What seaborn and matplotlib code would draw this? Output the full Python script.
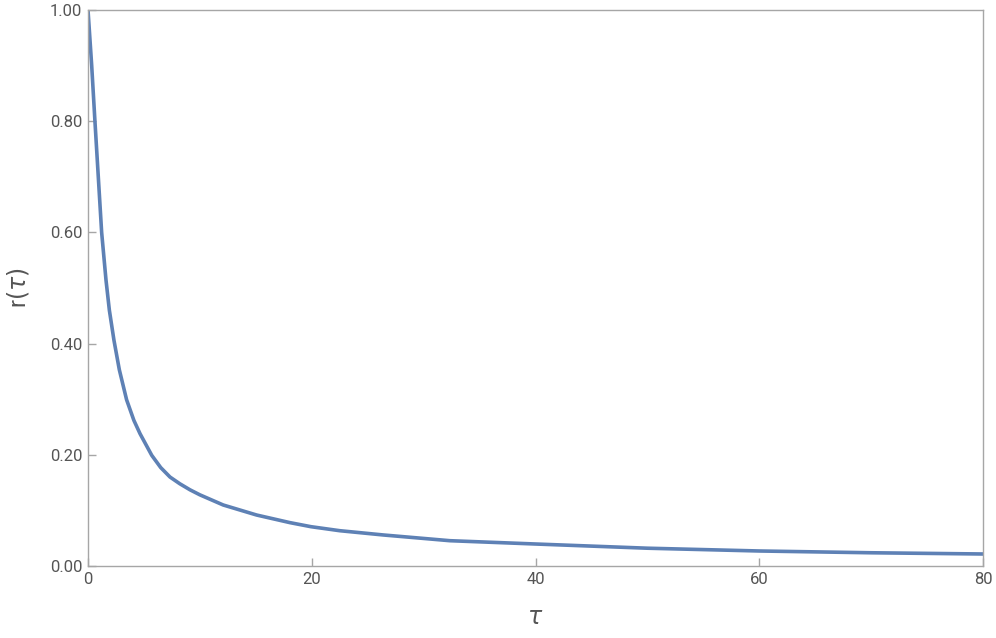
import matplotlib
matplotlib.use("Agg")
import matplotlib.pyplot as plt
import seaborn as sns
import pandas as pd

# Values
tau = [0, 0.33, 0.62, 0.92, 1.22, 1.61, 1.91, 2.32, 2.80, 3.45, 4.1, 4.65,
       5.7, 6.5, 7.33, 8.2, 9.12, 10.0, 12.09, 15.07, 18.05, 19.93, 22.5,
       26.4, 32.35, 39.95, 50, 60, 70, 80]
r_tau = [1.0, 0.90, 0.80, 0.70, 0.60, 0.514, 0.460, 0.406, 0.353, 0.299,
         0.262, 0.238, 0.199, 0.177, 0.160, 0.148, 0.137, 0.128, 0.1097,
         0.0917, 0.078, 0.0707, 0.0635, 0.0558, 0.0455, 0.0396, 0.032,
         0.027, 0.0238, 0.0216]
x_ticks = [0, 20, 40, 60, 80]
y_ticks = [0.0, 0.2, 0.4, 0.6, 0.8, 1.0]
y_tick_labels = ["0.00", "0.20", "0.40", "0.60", "0.80", "1.00"]

sns.set_theme(style="white")
plt.rcParams["font.family"] = ["Roboto", "DejaVu Sans"]
plt.rcParams["mathtext.fontset"] = "dejavusans"

df = pd.DataFrame({"tau": tau, "r": r_tau})

fig = plt.figure(figsize=(9.96, 6.38), dpi=100)
ax = fig.add_axes([88 / 996, 1 - 566 / 638, (983 - 88) / 996, (566 - 10) / 638])

sns.lineplot(data=df, x="tau", y="r", ax=ax, color="#5e81b5", linewidth=2.6,
             sort=True, estimator=None, solid_joinstyle="round",
             solid_capstyle="round")

ax.set_xlim(0, 80)
ax.set_ylim(0, 1.0)
ax.set_xticks(x_ticks)
ax.set_xticklabels([str(t) for t in x_ticks])
ax.set_yticks(y_ticks)
ax.set_yticklabels(y_tick_labels)

frame_color = "#a6a6a6"
for s in ax.spines.values():
    s.set_color(frame_color)
    s.set_linewidth(1.0)

ax.tick_params(axis="both", which="major", direction="in", length=6,
               width=1.0, color=frame_color, labelcolor="#555555",
               labelsize=12, pad=4, bottom=True, left=True, top=False,
               right=False)

ax.set_xlabel(r"$\tau$", fontsize=17, color="#555555", labelpad=14)
ax.set_ylabel(r"r$(\tau)$", fontsize=17, color="#555555", labelpad=14)

fig.savefig("out.png", dpi=100)
